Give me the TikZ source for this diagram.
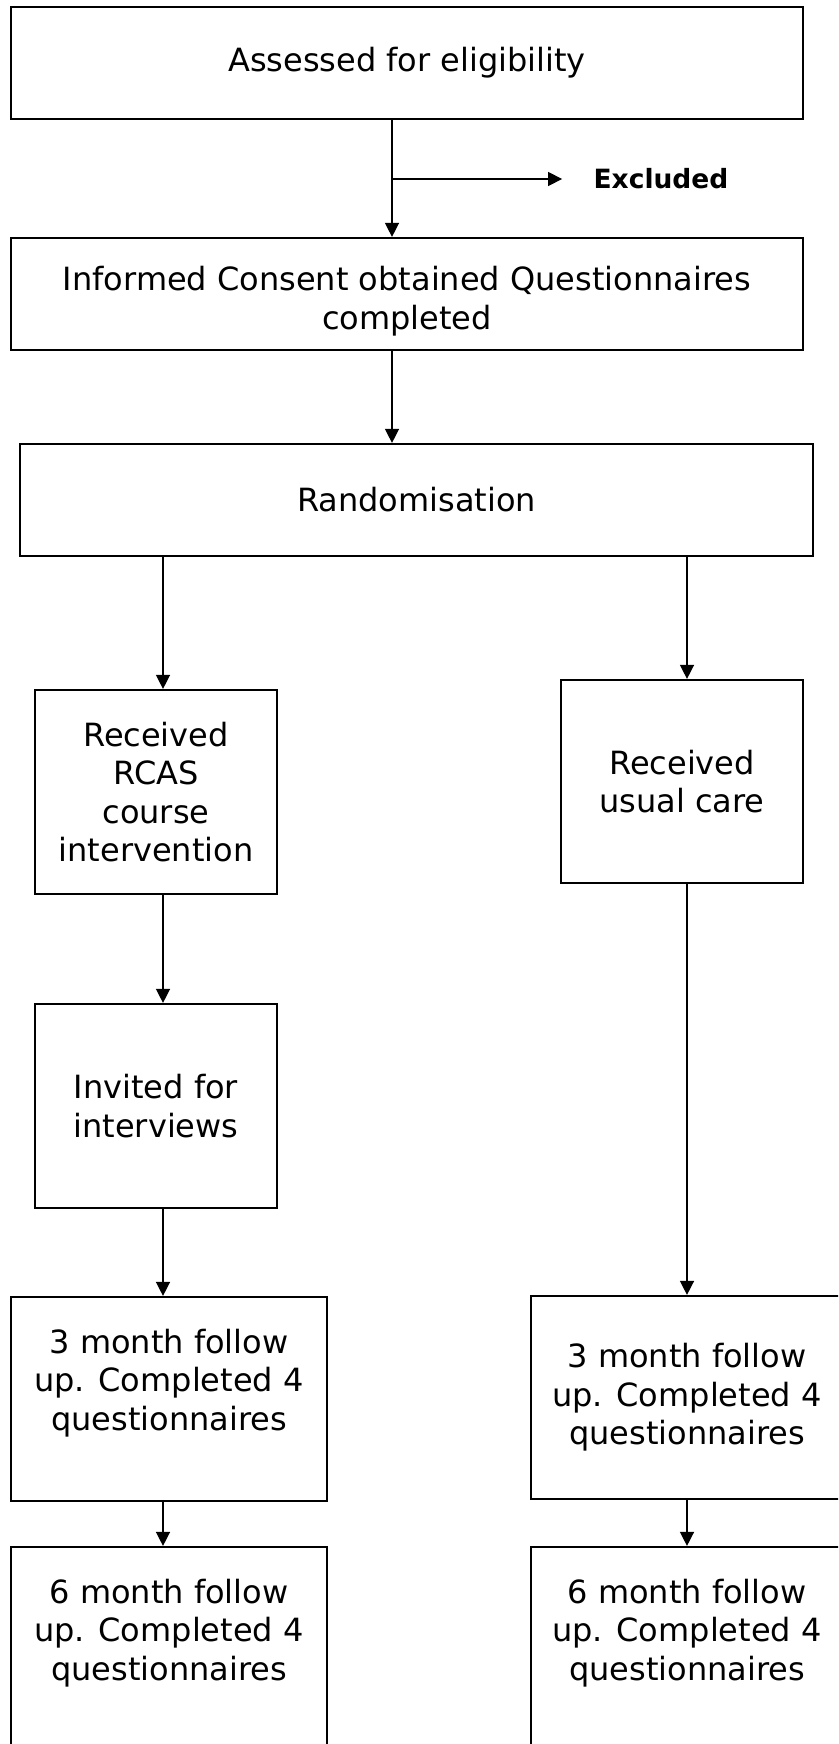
\documentclass[tikz,border=0pt]{standalone}
\usepackage{fontspec}
\setmainfont{DejaVu Sans}
\usetikzlibrary{arrows.meta}

\begin{document}
\begin{tikzpicture}[x=1pt, y=-1pt, >={Triangle[length=14pt, width=14pt]},
  box/.style={draw, line width=2.2pt, align=center, inner sep=0pt,
    font=\fontsize{32}{38.5}\selectfont},
  line/.style={line width=1.4pt}]
\useasboundingbox (0,0) rectangle (838,1744);
\clip (0,0) rectangle (838,1744);
\coordinate (T) at (392, 0);
\coordinate (L) at (163, 0);
\coordinate (R) at (687, 0);
\node[box, minimum width=792, minimum height=112] (1) at (407, 63)  {Assessed for eligibility};
\node[box, minimum width=792, minimum height=112] (2) at (407, 294) {\mbox{}\\Informed Consent obtained Questionnaires\\completed};
\node[box, minimum width=793, minimum height=112] (3) at (416.5, 500) {Randomisation};
\node[box, minimum width=242, minimum height=204] (4) at (156, 792)  {Received\\RCAS\\course\\intervention};
\node[box, minimum width=242, minimum height=203] (5) at (682, 781.5) {Received\\usual care};
\node[box, minimum width=242, minimum height=204] (6) at (156, 1106) {Invited for\\interviews};
\node[box, minimum width=316, minimum height=204] (7) at (169, 1399) {3 month follow\\up. Completed 4\\questionnaires\\\mbox{}};
\node[box, minimum width=312, minimum height=203] (8) at (687, 1397.5) {3 month follow\\up. Completed 4\\questionnaires};
\node[box, minimum width=316, minimum height=204] (9) at (169, 1649) {6 month follow\\up. Completed 4\\questionnaires\\\mbox{}};
\node[box, minimum width=312, minimum height=204] (10) at (687, 1649) {6 month follow\\up. Completed 4\\questionnaires\\\mbox{}};
\node[font=\fontsize{26.5}{30}\selectfont\bfseries] (ex) at (661, 179) {Excluded};
\coordinate (s) at (392, 179);
 \draw [line, ->] (1.south -| T)--(2.north -| T);
 \draw [line, ->, shorten >=28pt] (s)--(ex.west);
 \draw [line, ->] (2.south -| T)--(3.north -| T);
  \draw [line, ->] (3.south -| L)--(4.north -| L);
  \draw [line, ->] (3.south -| R)--(5.north -| R);
  \draw [line, ->] (4.south -| L)--(6.north -| L);
  \draw [line, ->] (6.south -| L)--(7.north -| L);
  \draw [line, ->] (5.south -| R)--(8.north -| R);
  \draw [line, ->] (7.south -| L)--(9.north -| L);
  \draw [line, ->] (8.south -| R)--(10.north -| R);
\end{tikzpicture}
\end{document}
